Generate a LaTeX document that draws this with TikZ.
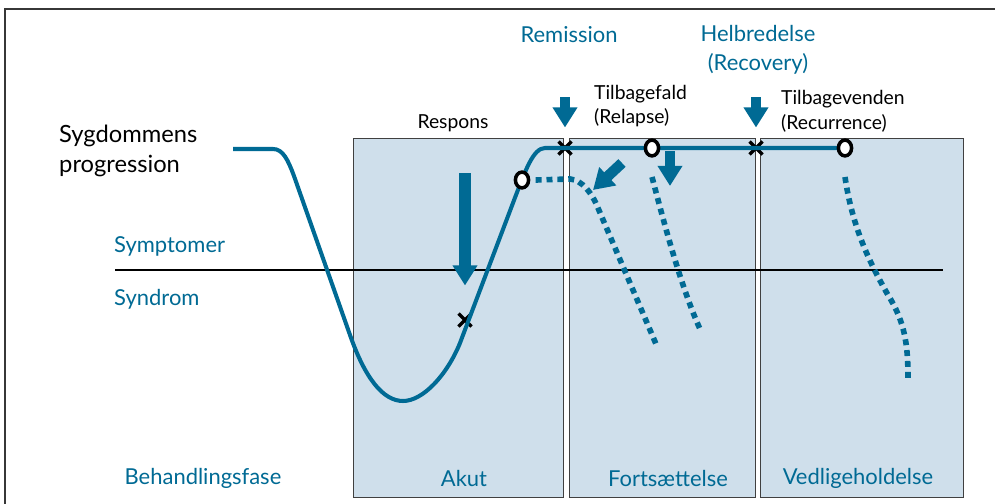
\documentclass[tikz,border=0pt]{standalone}
\usepackage{fontspec}
\setmainfont{Lato}
\usetikzlibrary{shapes.geometric, shapes.misc, arrows.meta, positioning}
\definecolor{courseblue}{RGB}{0, 106, 148}
\definecolor{phasefill}{RGB}{207, 223, 235}
\definecolor{framegray}{RGB}{55, 55, 55}

\begin{document}
\begin{tikzpicture}[x=0.02cm, y=-0.02cm,
    phasebox/.style={draw=black!75, line width=0.6pt, fill=phasefill, anchor=north west, minimum height=7.18cm, inner sep=0pt},
    bluelabel/.style={text=courseblue, font=\fontsize{12.5}{16.5}\selectfont, align=center},
    blacklabel/.style={font=\fontsize{11}{14}\selectfont, align=left},
    turnpoint/.style={draw, ellipse, fill=white, line width=2pt, minimum width=7.5pt, minimum height=9pt, inner sep=0pt},
    xmark/.style={cross out, draw, line width=1.9pt, minimum size=5.5pt, inner sep=0pt},
    course/.style={draw=courseblue, line width=2.3pt},
    relapse/.style={draw=courseblue, line width=3.2pt, dash pattern=on 3.4pt off 2.8pt},
    bigarrow/.style={draw=courseblue, line width=6.5pt, -{Triangle[length=11.5pt, width=13.5pt]}}]

  \useasboundingbox (0,0) rectangle (995,504);
  \draw[framegray, line width=1.2pt] (5,504) -- (5,9) -- (995,9);

  % Phases
  \node[phasebox, minimum width=4.2cm] (akut) at (353,138) {};
  \node[phasebox, minimum width=3.72cm] (forts) at (569,138) {};
  \node[phasebox, minimum width=4.06cm] (vedl) at (760,138) {};

  % Threshold
  \draw[black, line width=1.1pt] (115,270) -- (943,270);

  % Marks on the course
  \coordinate (start) at (233,149);
  \node[xmark] (xresp) at (465,320) {};
  \node[xmark] (xrem) at (565,148) {};
  \node[xmark] (xrec) at (756,148) {};

  % Course of the illness
  \draw[course] (start) -- (273,149) .. controls (283,149) and (288,160) .. (294,176)
    -- (350,335) .. controls (365,378) and (383,401) .. (403,401)
    .. controls (423,401) and (447,375) .. (460,343)
    -- (516,195) .. controls (525,172) and (533,148) .. (545,148) -- (845,148);

  % Relapse and recurrence
  \node[turnpoint] (orelapse) at (522,180) {};
  \node[turnpoint] (oremit) at (652,148) {};
  \node[turnpoint] (orecov) at (845,148) {};

  \draw[relapse] ([xshift=3pt]orelapse.east) -- (570,179) .. controls (582,180) and (592,193) .. (598,208) -- (656,344);
  \draw[relapse] ([yshift=-11pt]oremit.south) .. controls (662,215) and (680,285) .. (700,329);
  \draw[relapse] ([yshift=-11pt]orecov.south) .. controls (852,225) and (868,260) .. (888,295)
    .. controls (905,322) and (908,345) .. (908,378);

  % Arrows
  \draw[bigarrow, shorten >=0.56cm] (465,173) -- (xresp);
  \draw[bigarrow, line width=6pt, shorten >=0.28cm] (565,97) -- (xrem);
  \draw[bigarrow, line width=6pt, shorten >=0.28cm] (756,97) -- (xrec);
  \draw[bigarrow, line width=6pt] (670,151) -- (670,186);
  \draw[bigarrow, line width=6pt] (622,163) -- (593,190);

  % Labels
  \node[font=\fontsize{13.5}{17}\selectfont, align=left, anchor=west] (progr) at (53,151) {Sygdommens\\progression};
  \node[bluelabel, anchor=west] (sympt) at (108,246) {Symptomer};
  \node[bluelabel, anchor=west] (syndr) at (108,299) {Syndrom};
  \node[bluelabel] (remis) at (569,35) {Remission};
  \node[bluelabel] (helbr) at (758,50) {Helbredelse\\(Recovery)};
  \node[blacklabel] (respons) at (453,123) {Respons};
  \node[blacklabel, anchor=west] (tilbf) at (588,106) {Tilbagefald\\(Relapse)};
  \node[blacklabel, anchor=west] (tilbv) at (775,111) {Tilbagevenden\\(Recurrence)};

  \node[bluelabel] (behfase) at (203,478) {Behandlingsfase};
  \node[bluelabel] (akutlbl) at (464,478) {Akut};
  \node[bluelabel] (fortslbl) at (668,478) {Fortsættelse};
  \node[bluelabel] (vedllbl) at (858,478) {Vedligeholdelse};
\end{tikzpicture}
\end{document}
